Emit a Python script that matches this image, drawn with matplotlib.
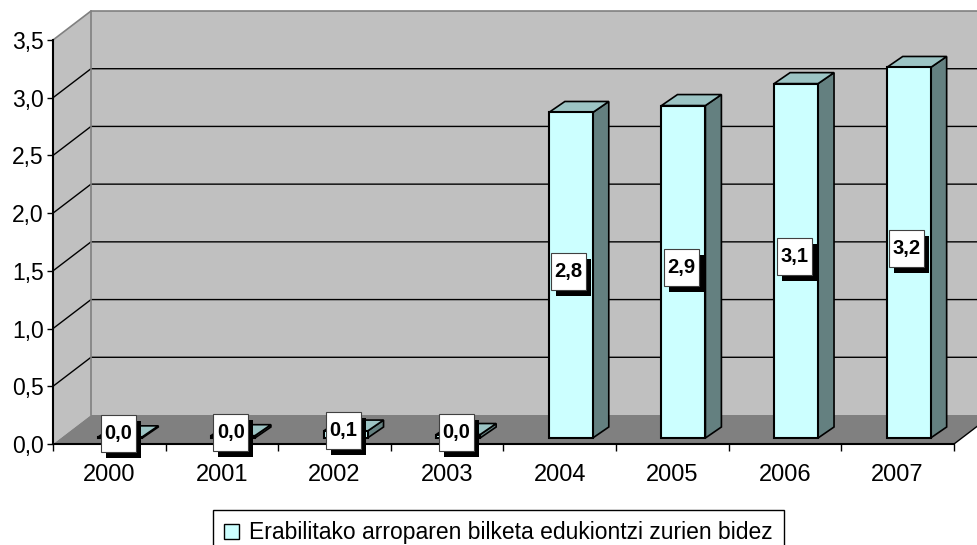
import matplotlib
matplotlib.use('Agg')
import matplotlib.pyplot as plt
from matplotlib.patches import Polygon, Rectangle

# ---- data ----
years = ['2000', '2001', '2002', '2003', '2004', '2005', '2006', '2007']
values = [0.01, 0.02, 0.06, 0.03, 2.82, 2.88, 3.07, 3.21]
yticks = [0.0, 0.5, 1.0, 1.5, 2.0, 2.5, 3.0, 3.5]
legend_label = "Erabilitako arroparen bilketa edukiontzi zurien bidez"

plt.rcParams['font.family'] = ['Liberation Sans', 'DejaVu Sans']

W, H = 978, 545
fig = plt.figure(figsize=(W / 100, H / 100), dpi=100)
x0, x1, ybase, ytop = 53, 954, 444, 40
ax = fig.add_axes([x0 / W, 1 - ybase / H, (x1 - x0) / W, (ybase - ytop) / H])
n = len(years)
ymax = yticks[-1]
ax.set_xlim(0, n)
ax.set_ylim(0, ymax)
ax.patch.set_visible(False)

ux = (x1 - x0) / n
uy = (ybase - ytop) / ymax


def px(dx, dy):
    """pixel offset -> data units (dy positive = upward)"""
    return dx / ux, dy / uy


WX, WY = px(38, 29)
right = n + WX + 1.0

wall = '#C0C0C0'
floor = '#808080'
edge_gray = '#808080'

# side wall
ax.add_patch(Polygon([(0, 0), (WX, WY), (WX, ymax + WY), (0, ymax)], closed=True,
                     fc=wall, ec='none', clip_on=False, zorder=0))
# back wall
ax.add_patch(Polygon([(WX, WY), (right, WY), (right, ymax + WY), (WX, ymax + WY)], closed=True,
                     fc=wall, ec='none', clip_on=False, zorder=0))
# floor
ax.add_patch(Polygon([(0, 0), (n, 0), (n + WX, WY), (WX, WY)], closed=True,
                     fc=floor, ec='none', clip_on=False, zorder=0.5))
ax.plot([n, n + WX], [0, WY], color='black', lw=1, clip_on=False, zorder=0.6)

# gridlines
for v in yticks[1:-1]:
    ax.plot([0, WX, right], [v, v + WY, v + WY], color='black', lw=1,
            clip_on=False, zorder=1)
# wall edges
ax.plot([0, WX, right], [ymax, ymax + WY, ymax + WY], color=edge_gray, lw=1.2,
        clip_on=False, zorder=1)
ax.plot([WX, WX], [WY, ymax + WY], color=edge_gray, lw=1.2, clip_on=False, zorder=1)

# bars
BX, BY = px(11, 6)
DX, DY = px(16, 11)
hw = 0.195
front_c = '#CCFFFF'
side_c = '#648080'
top_c = '#9CC4C4'
boxw, boxh = px(35, 37)
shx, shy = px(5, 6)
for i, v in enumerate(values):
    cx = i + 0.5 + BX
    l, r = cx - hw, cx + hw
    b, t = BY, BY + v
    z = 2 + i * 0.01
    ax.add_patch(Polygon([(r, b), (r + DX, b + DY), (r + DX, t + DY), (r, t)], closed=True,
                         fc=side_c, ec='black', lw=1.2, clip_on=False, zorder=z, joinstyle='miter'))
    ax.add_patch(Polygon([(l, t), (r, t), (r + DX, t + DY), (l + DX, t + DY)], closed=True,
                         fc=top_c, ec='black', lw=1.2, clip_on=False, zorder=z, joinstyle='miter'))
    ax.add_patch(Rectangle((l, b), r - l, v, fc=front_c, ec='black', lw=1.5,
                           clip_on=False, zorder=z + 0.005))

# data labels
for i, v in enumerate(values):
    cx = i + 0.5 + BX - px(2, 0)[0]
    cy = BY + v / 2 + px(0, 4)[1]
    bl, bb = cx - boxw / 2, cy - boxh / 2
    ax.add_patch(Rectangle((bl + shx, bb - shy), boxw, boxh, fc='black', ec='none',
                           clip_on=False, zorder=5))
    ax.add_patch(Rectangle((bl, bb), boxw, boxh, fc='white', ec='#404040', lw=0.8,
                           clip_on=False, zorder=6))
    ax.text(cx, cy, f"{v:.1f}".replace('.', ','), ha='center', va='center',
            fontsize=14.5, fontweight='bold', color='black', zorder=7)

# axes / ticks
for s in ['top', 'right']:
    ax.spines[s].set_visible(False)
for s in ['left', 'bottom']:
    ax.spines[s].set_color('black')
    ax.spines[s].set_linewidth(1.5)
    ax.spines[s].set_zorder(1.5)
ax.set_yticks(yticks)
ax.set_yticklabels([f"{t:.1f}".replace('.', ',') for t in yticks])
ax.set_xticks(range(n + 1))
ax.set_xticklabels([''] * (n + 1))
ax.set_xticks([i + 0.5 for i in range(n)], minor=True)
ax.set_xticklabels(years, minor=True)
ax.tick_params(axis='y', length=4.5, width=1, pad=2, labelsize=16.5, color='black')
ax.tick_params(axis='x', which='major', length=5, width=1, color='black')
ax.tick_params(axis='x', which='minor', length=0, pad=14.5, labelsize=17)

# legend
handle = Rectangle((0, 0), 1, 1, fc=front_c, ec='black', lw=1)
leg = fig.legend([handle], [legend_label], loc='upper left',
                 bbox_to_anchor=(213 / W, 1 - 510 / H), bbox_transform=fig.transFigure,
                 frameon=True, fancybox=False, edgecolor='black', framealpha=1,
                 borderpad=0.5, handlelength=0.65, handleheight=0.65, handletextpad=0.4,
                 borderaxespad=0, fontsize=16.5)
leg.get_frame().set_linewidth(1)

fig.savefig('out.png', dpi=100)
